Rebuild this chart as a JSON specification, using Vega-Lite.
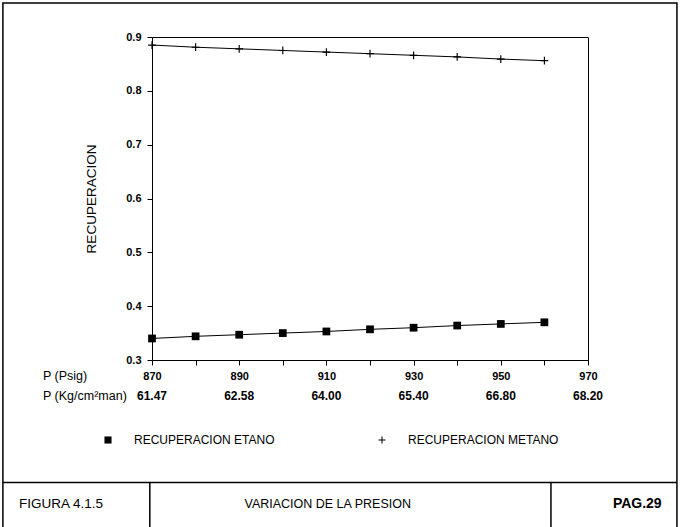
{
  "$schema": "https://vega.github.io/schema/vega-lite/v6.json",
  "width": 436,
  "height": 323,
  "autosize": {"type": "none"},
  "padding": {"left": 152, "top": 37, "right": 92, "bottom": 167},
  "background": "white",
  "config": {
    "view": {"stroke": "black", "strokeWidth": 1},
    "font": "Liberation Sans",
    "axis": {"labelFont": "Liberation Sans", "titleFont": "Liberation Sans"},
    "legend": {"labelFont": "Liberation Sans"}
  },
  "datasets": {
    "rec": [
      {"P": 870, "serie": "RECUPERACION ETANO", "valor": 0.340},
      {"P": 880, "serie": "RECUPERACION ETANO", "valor": 0.344},
      {"P": 890, "serie": "RECUPERACION ETANO", "valor": 0.347},
      {"P": 900, "serie": "RECUPERACION ETANO", "valor": 0.350},
      {"P": 910, "serie": "RECUPERACION ETANO", "valor": 0.353},
      {"P": 920, "serie": "RECUPERACION ETANO", "valor": 0.357},
      {"P": 930, "serie": "RECUPERACION ETANO", "valor": 0.360},
      {"P": 940, "serie": "RECUPERACION ETANO", "valor": 0.364},
      {"P": 950, "serie": "RECUPERACION ETANO", "valor": 0.367},
      {"P": 960, "serie": "RECUPERACION ETANO", "valor": 0.370},
      {"P": 870, "serie": "RECUPERACION METANO", "valor": 0.885},
      {"P": 880, "serie": "RECUPERACION METANO", "valor": 0.881},
      {"P": 890, "serie": "RECUPERACION METANO", "valor": 0.878},
      {"P": 900, "serie": "RECUPERACION METANO", "valor": 0.875},
      {"P": 910, "serie": "RECUPERACION METANO", "valor": 0.872},
      {"P": 920, "serie": "RECUPERACION METANO", "valor": 0.869},
      {"P": 930, "serie": "RECUPERACION METANO", "valor": 0.866},
      {"P": 940, "serie": "RECUPERACION METANO", "valor": 0.863},
      {"P": 950, "serie": "RECUPERACION METANO", "valor": 0.859},
      {"P": 960, "serie": "RECUPERACION METANO", "valor": 0.856}
    ],
    "kg": [
      {"P": 870, "kg": "61.47"},
      {"P": 890, "kg": "62.58"},
      {"P": 910, "kg": "64.00"},
      {"P": 930, "kg": "65.40"},
      {"P": 950, "kg": "66.80"},
      {"P": 970, "kg": "68.20"}
    ]
  },
  "layer": [
    {
      "data": {"name": "rec"},
      "mark": {"type": "line", "color": "black", "strokeWidth": 1},
      "encoding": {
        "x": {
          "field": "P", "type": "quantitative",
          "scale": {"domain": [870, 970], "nice": false, "zero": false},
          "axis": {
            "values": [870, 880, 890, 900, 910, 920, 930, 940, 950, 960, 970],
            "labelExpr": "datum.value % 20 == 0 ? '' : datum.label",
            "title": null, "grid": false, "domainColor": "black", "tickColor": "black",
            "tickSize": 5, "labelPadding": 5, "labelFontSize": 11, "labelFontWeight": "bold",
            "labelColor": "black", "labelFlush": false, "labelOverlap": false
          }
        },
        "y": {
          "field": "valor", "type": "quantitative",
          "scale": {"domain": [0.3, 0.9], "nice": false, "zero": false},
          "axis": {
            "values": [0.3, 0.4, 0.5, 0.6, 0.7, 0.8, 0.9], "format": ".1f",
            "title": "RECUPERACION", "titleFontSize": 13.5, "titleFontWeight": "normal",
            "titleColor": "black", "titlePadding": 27,
            "grid": false, "domainColor": "black", "tickColor": "black",
            "tickSize": 5, "labelPadding": 6, "labelFontSize": 11, "labelFontWeight": "bold",
            "labelColor": "black", "labelFlush": false
          }
        },
        "detail": {"field": "serie"}
      }
    },
    {
      "data": {"name": "rec"},
      "mark": {"type": "point", "filled": true, "color": "black", "size": 60, "opacity": 1},
      "encoding": {
        "x": {"field": "P", "type": "quantitative"},
        "y": {"field": "valor", "type": "quantitative"},
        "shape": {
          "field": "serie", "type": "nominal",
          "scale": {"domain": ["RECUPERACION ETANO", "RECUPERACION METANO"], "range": ["square", "M-1,-0.15H1V0.15H-1Z M-0.15,-1H0.15V1H-0.15Z"]},
          "legend": {
            "orient": "none", "legendX": -50, "legendY": 397, "direction": "horizontal",
            "title": null, "labelFontSize": 12, "labelColor": "black", "symbolSize": 50,
            "symbolFillColor": "black", "symbolStrokeWidth": 0, "symbolOpacity": 1,
            "labelOffset": 20, "columnPadding": 101
          }
        }
      }
    },
    {
      "data": {"name": "kg"},
      "mark": {"type": "text", "fontSize": 12, "fontWeight": "bold", "color": "black", "dy": 36, "baseline": "middle"},
      "encoding": {
        "x": {"field": "P", "type": "quantitative"},
        "y": {"datum": 0.3},
        "text": {"field": "kg"}
      }
    },
    {
      "data": {"values": [{}]},
      "mark": {"type": "text", "text": "P (Psig)", "fontSize": 12.5, "color": "black", "align": "left", "baseline": "middle", "dx": -109, "dy": 16},
      "encoding": {"x": {"datum": 870}, "y": {"datum": 0.3}}
    },
    {
      "data": {"values": [{}]},
      "mark": {"type": "text", "text": "P (Kg/cm²man)", "fontSize": 12.5, "color": "black", "align": "left", "baseline": "middle", "dx": -109, "dy": 36},
      "encoding": {"x": {"datum": 870}, "y": {"datum": 0.3}}
    },
    {
      "data": {"values": [{}]},
      "mark": {"type": "rect", "filled": false, "stroke": "black", "strokeWidth": 1.5},
      "encoding": {"x": {"datum": 835.8}, "x2": {"datum": 990.4}, "y": {"datum": 0.9633}, "y2": {"datum": -0.02}}
    },
    {
      "data": {"values": [{}]},
      "mark": {"type": "rule", "color": "black", "strokeWidth": 1.5},
      "encoding": {"x": {"datum": 835.8}, "x2": {"datum": 990.4}, "y": {"datum": 0.0725}}
    },
    {
      "data": {"values": [{}]},
      "mark": {"type": "rule", "color": "black", "strokeWidth": 1.5},
      "encoding": {"x": {"datum": 869.5}, "y": {"datum": 0.0725}, "y2": {"datum": -0.02}}
    },
    {
      "data": {"values": [{}]},
      "mark": {"type": "rule", "color": "black", "strokeWidth": 1.5},
      "encoding": {"x": {"datum": 961.5}, "y": {"datum": 0.0725}, "y2": {"datum": -0.02}}
    },
    {
      "data": {"values": [{}]},
      "mark": {"type": "text", "text": "FIGURA 4.1.5", "fontSize": 13.5, "color": "black", "align": "left", "baseline": "middle"},
      "encoding": {"x": {"datum": 839.5}, "y": {"datum": 0.0325}}
    },
    {
      "data": {"values": [{}]},
      "mark": {"type": "text", "text": "VARIACION DE LA PRESION", "fontSize": 12.5, "color": "black", "align": "center", "baseline": "middle"},
      "encoding": {"x": {"datum": 910.3}, "y": {"datum": 0.0325}}
    },
    {
      "data": {"values": [{}]},
      "mark": {"type": "text", "text": "PAG.29", "fontSize": 14, "fontWeight": "bold", "letterSpacing": 1.2, "color": "black", "align": "center", "baseline": "middle"},
      "encoding": {"x": {"datum": 981.3}, "y": {"datum": 0.0325}}
    }
  ]
}
